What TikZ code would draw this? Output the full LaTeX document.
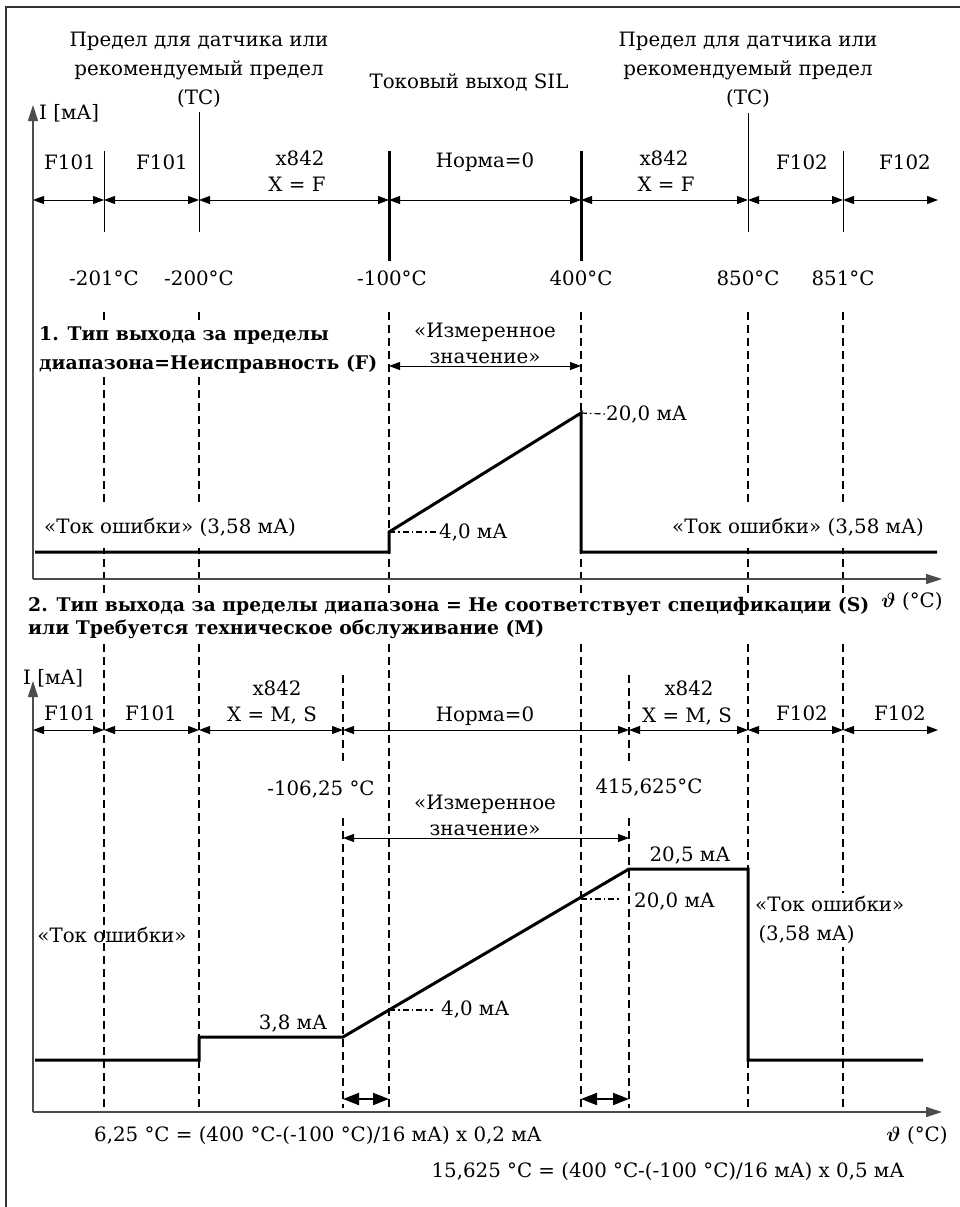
\documentclass[tikz,border=0pt]{standalone}
\usepackage{fontspec}
\setmainfont{DejaVu Serif}
\usetikzlibrary{arrows.meta}
\begin{document}
\begin{tikzpicture}[x=1pt,y=-1pt,
  txt/.style={font=\fontsize{19.8}{29}\selectfont, inner sep=1pt},
  txtb/.style={font=\fontsize{19.8}{26}\selectfont, inner sep=1pt},
  btxt/.style={font=\fontsize{18.8}{29}\selectfont\bfseries, inner sep=1pt},
  btxtt/.style={font=\fontsize{18.8}{23}\selectfont\bfseries, inner sep=1pt},
  frameline/.style={line width=1.5pt, draw=black!80},
  axis/.style={line width=1.3pt, draw=black!70, -{Triangle[length=16pt,width=10pt]}},
  dimline/.style={line width=0.9pt, {Triangle[length=11pt,width=8pt]}-{Triangle[length=11pt,width=8pt]}},
  bigdim/.style={line width=2pt, {Triangle[length=16pt,width=12pt]}-{Triangle[length=16pt,width=12pt]}},
  thintick/.style={line width=1pt},
  thicktick/.style={line width=3pt},
  dashv/.style={line width=1.8pt, dash pattern=on 8pt off 5pt},
  sig/.style={line width=3pt, line join=miter},
  lead/.style={line width=1.2pt, dash pattern=on 6pt off 3pt on 1.5pt off 3pt},
  blank/.style={fill=white}
]
\useasboundingbox (0,0) rectangle (960,1207);
% frame
\draw[frameline] (5,7) -- (960,7);
\draw[frameline] (6,7) -- (6,1207);

% ================= TOP HEADER =================
\node[txt, align=center] (limL) at (199,70) {Предел для датчика или\\рекомендуемый предел\\(TC)};
\node[txt] (sil) at (469,82) {Токовый выход SIL};
\node[txt, align=center] (limR) at (748,70) {Предел для датчика или\\рекомендуемый предел\\(TC)};
\node[txt, anchor=west] (ia) at (38,113) {I [мА]};

\coordinate (tA) at (33,200);
\coordinate (tB) at (104,200);
\coordinate (tC) at (199,200);
\coordinate (tD) at (389,200);
\coordinate (tE) at (581,200);
\coordinate (tF) at (748,200);
\coordinate (tG) at (843,200);
\coordinate (tH) at (938,200);

\draw[thintick] (104,151) -- (104,232);
\draw[thintick] (199,112) -- (199,232);
\draw[thicktick] (389,151) -- (389,261);
\draw[thicktick] (581,151) -- (581,261);
\draw[thintick] (748,113) -- (748,232);
\draw[thintick] (843,151) -- (843,232);

\draw[dimline] (tA) -- (tB);
\draw[dimline] (tB) -- (tC);
\draw[dimline] (tC) -- (tD);
\draw[dimline] (tD) -- (tE);
\draw[dimline] (tE) -- (tF);
\draw[dimline] (tF) -- (tG);
\draw[dimline] (tG) -- (tH);

\node[txt] (f1a) at (70,162) {F101};
\node[txt] (f1b) at (162,162) {F101};
\node[txt] (xa) at (300,158) {x842};
\node[txt] (xb) at (297,184) {X = F};
\node[txt] (norm1) at (485,162) {Норма=0};
\node[txt] (xc) at (664,158) {x842};
\node[txt] (xd) at (666,184) {X = F};
\node[txt] (f2a) at (802,162) {F102};
\node[txt] (f2b) at (905,162) {F102};

\node[txt] (t201) at (104,278) {-201°C};
\node[txt] (t200) at (199,278) {-200°C};
\node[txt] (t100) at (392,278) {-100°C};
\node[txt] (t400) at (581,278) {400°C};
\node[txt] (t850) at (748,278) {850°C};
\node[txt] (t851) at (843,278) {851°C};

% ================= SECTION 1 =================
\foreach \x in {104,199,389,581,748,843} \draw[dashv] (\x,312) -- (\x,596);

\node[btxt, blank, anchor=west, align=left, inner ysep=4pt] (title1) at (38,350) {1. Тип выхода за пределы\\диапазона=Неисправность (F)};
\node[txtb, align=center] (meas1) at (485,343) {«Измеренное\\значение»};
\draw[dimline] (389,366) -- (581,366);

\node[txt, blank, inner ysep=12pt] (err1L) at (170,527) {«Ток ошибки» (3,58 мА)};
\node[txt, blank, inner ysep=12pt] (err1R) at (798,527) {«Ток ошибки» (3,58 мА)};

\coordinate (s1a) at (35,552);
\coordinate (s1b) at (389,552);
\coordinate (s1c) at (389,532);
\coordinate (s1d) at (581,413);
\coordinate (s1e) at (581,552);
\coordinate (s1f) at (937,552);
\draw[sig] (s1a) -- (s1b) -- (s1c) -- (s1d) -- (s1e) -- (s1f);

\node[txt, anchor=west] (l4a) at (438,532) {4,0 мА};
\draw[lead] (s1c) -- (l4a.west);
\node[txt, anchor=west] (l20a) at (605,414) {20,0 мА};
\draw[lead] (s1d) -- (l20a.west);

\draw[axis] (33,579) -- (942,579);
\draw[axis] (33,579) -- (33,105);
\node[txt] (th1) at (912,602) {{\boldmath$\vartheta$} (°C)};

% ================= SECTION 2 =================
\node[btxtt, anchor=north west, align=left, inner sep=0pt] (title2) at (28,597) {2. Тип выхода за пределы диапазона = Не соответствует спецификации (S)\\или Требуется техническое обслуживание (M)};

\foreach \x in {104,199,389,581,748,843} \draw[dashv] (\x,644) -- (\x,1112);
\foreach \x in {343,629} \draw[dashv] (\x,675) -- (\x,1108);

\draw[axis] (33,1112) -- (33,681);
\node[txt, anchor=west] (ib) at (22,678) {I [мА]};

\coordinate (uA) at (33,730);
\coordinate (uB) at (104,730);
\coordinate (uC) at (199,730);
\coordinate (uD) at (343,730);
\coordinate (uE) at (629,730);
\coordinate (uF) at (748,730);
\coordinate (uG) at (843,730);
\coordinate (uH) at (938,730);
\draw[dimline] (uA) -- (uB);
\draw[dimline] (uB) -- (uC);
\draw[dimline] (uC) -- (uD);
\draw[dimline] (uD) -- (uE);
\draw[dimline] (uE) -- (uF);
\draw[dimline] (uF) -- (uG);
\draw[dimline] (uG) -- (uH);

\node[txt] (g1a) at (70,713) {F101};
\node[txt] (g1b) at (151,713) {F101};
\node[txt] (ya) at (277,688) {x842};
\node[txt] (yb) at (272,715) {X = M, S};
\node[txt] (norm2) at (485,716) {Норма=0};
\node[txt] (yc) at (689,688) {x842};
\node[txt] (yd) at (687,716) {X = M, S};
\node[txt] (g2a) at (802,713) {F102};
\node[txt] (g2b) at (900,713) {F102};

\node[txt, blank, inner ysep=17pt] (m106) at (321,789) {-106,25 °C};
\node[txt, blank, inner ysep=17pt] (m415) at (649,787) {415,625°C};

\node[txtb, align=center] (meas2) at (485,815) {«Измеренное\\значение»};
\draw[dimline] (343,838) -- (629,838);

\node[txt, blank, inner ysep=3pt, align=left, anchor=west] (err2R) at (754,920) {«Ток ошибки»\\\,(3,58 мА)};
\node[txt] (err2L) at (112,935) {«Ток ошибки»};

\coordinate (s2a) at (35,1060);
\coordinate (s2b) at (199,1060);
\coordinate (s2c) at (199,1037);
\coordinate (s2d) at (343,1037);
\coordinate (s2e) at (629,869);
\coordinate (s2f) at (748,869);
\coordinate (s2g) at (748,1060);
\coordinate (s2h) at (923,1060);
\draw[sig] (s2a) -- (s2b) -- (s2c) -- (s2d) -- (s2e) -- (s2f) -- (s2g) -- (s2h);

\coordinate (p4) at (389,1010);
\coordinate (p20) at (581,899);
\node[txt, anchor=west] (l4b) at (440,1009) {4,0 мА};
\draw[lead] (p4) -- (433,1010);
\node[txt, anchor=west] (l20b) at (633,901) {20,0 мА};
\draw[lead] (p20) -- (619,899);

\node[txt] (l205) at (690,855) {20,5 мА};
\node[txt] (l38) at (293,1023) {3,8 мА};

\draw[bigdim] (343,1099) -- (389,1099);
\draw[bigdim] (581,1099) -- (629,1099);

\draw[axis] (33,1112) -- (942,1112);
\node[txt] (th2) at (917,1136) {{\boldmath$\vartheta$} (°C)};
\node[txt] (form1) at (318,1136) {6,25 °C = (400 °C-(-100 °C)/16 мА) x 0,2 мА};
\node[txt] (form2) at (668,1172) {15,625 °C = (400 °C-(-100 °C)/16 мА) x 0,5 мА};
\end{tikzpicture}
\end{document}
